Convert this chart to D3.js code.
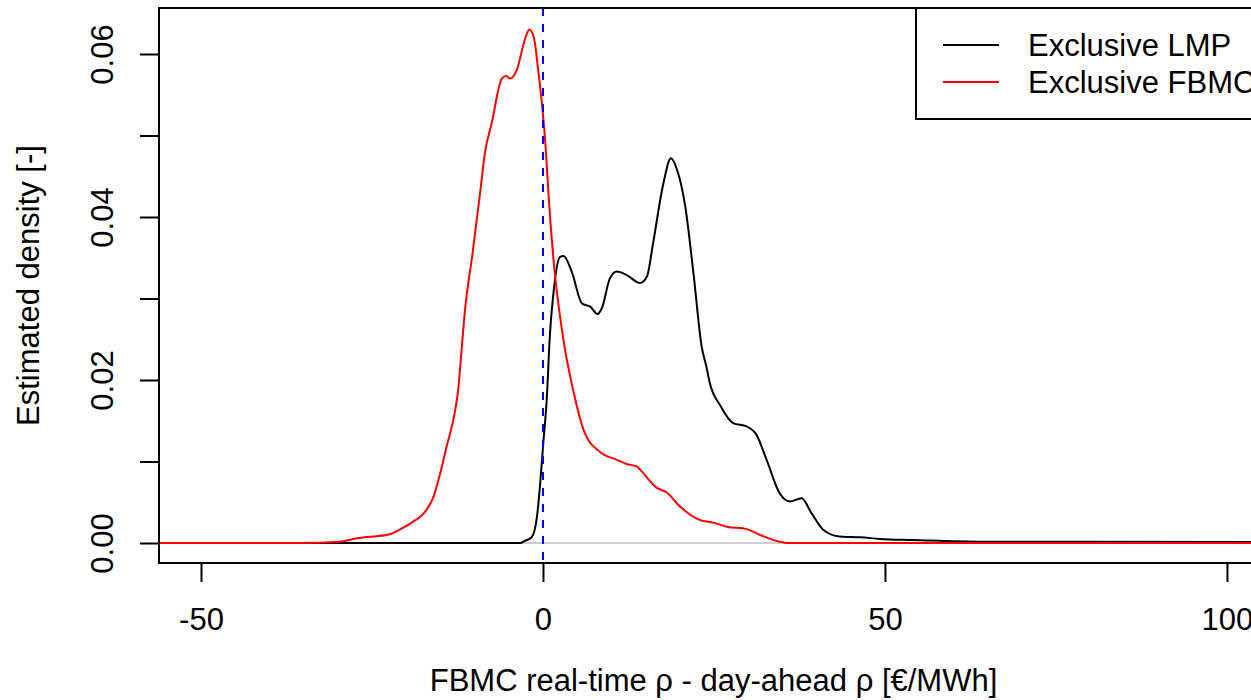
<!DOCTYPE html>
<html>
<head>
<meta charset="utf-8">
<script src="https://cdn.jsdelivr.net/npm/d3@7"></script>
<style>
  body { margin: 0; background: #fff; }
  text { font-family: "Liberation Sans", Arial, Helvetica, sans-serif; }
</style>
</head>
<body>
<div class="canvas"></div>
<script>
// density estimates
const lmpX = [-56, -20, -3.4, -2.6, -1.65, -0.9, -0.45, 0.05, 0.55, 1.0, 1.5, 1.75, 2.5, 3.0, 4.2, 5.7, 6.9, 8.0, 8.6, 9.8, 10.8, 12.2, 14.2, 15.2, 16.1, 17.6, 18.7, 19.6, 20.8, 22.0, 23.2, 23.9, 24.4, 25.9, 27.8, 29.8, 31.2, 32.7, 34.6, 36.1, 37.8, 39.3, 41.0, 43.4, 46.4, 49.3, 54.1, 63.9, 78.5, 106];
const lmpY = [0, 0, 0, 0.00028, 0.0007, 0.0031, 0.0069, 0.0123, 0.0176, 0.0254, 0.0304, 0.0323, 0.0351, 0.0352, 0.0333, 0.0294, 0.0290, 0.0281, 0.0288, 0.0325, 0.0333, 0.0329, 0.0319, 0.0327, 0.0368, 0.0441, 0.0472, 0.0458, 0.0413, 0.0331, 0.0241, 0.0216, 0.0196, 0.0169, 0.0147, 0.0143, 0.0133, 0.0102, 0.0061, 0.0051, 0.0055, 0.0036, 0.0016, 0.0008, 0.0007, 0.0005, 0.00037, 0.00016, 0.00016, 0.00012];

const fbmcX = [-56, -40, -35.5, -29.7, -27.2, -22.4, -20.9, -19.2, -17.0, -16.0, -15.1, -14.1, -12.9, -12.4, -11.9, -11.4, -10.3, -9.2, -8.5, -7.5, -6.0, -5.4, -4.8, -3.85, -2.6, -2.0, -1.3, -0.7, 0.0, 0.45, 0.8, 1.5, 3.0, 4.4, 6.1, 8.3, 10.8, 12.2, 13.7, 14.2, 16.6, 18.1, 20.0, 23.0, 24.9, 26.9, 29.8, 31.7, 34.6, 35.7, 50, 106];
const fbmcY = [0, 0, 0, 0.00016, 0.00058, 0.00107, 0.00168, 0.0025, 0.0041, 0.0057, 0.0083, 0.0118, 0.0160, 0.0188, 0.0237, 0.0286, 0.0355, 0.0429, 0.0478, 0.0515, 0.0570, 0.0573, 0.0570, 0.0580, 0.0619, 0.0630, 0.0619, 0.0580, 0.0526, 0.0478, 0.0429, 0.0351, 0.0249, 0.0188, 0.0135, 0.0112, 0.0102, 0.0097, 0.0094, 0.0090, 0.0068, 0.0062, 0.0045, 0.0028, 0.0025, 0.0020, 0.0017, 0.0010, 0.00016, 0, 0, 0];

const xTicks = [-50, 0, 50, 100];
const yTicks = [0, 0.01, 0.02, 0.03, 0.04, 0.05, 0.06];
const yLabelled = [0, 0.02, 0.04, 0.06];
const seriesNames = ['Exclusive LMP', 'Exclusive FBMC'];
const seriesColours = ['#000000', '#ff0000'];

const dims = { width: 1251, height: 700 };
const box = { left: 159, right: 1268, top: 8, bottom: 563 };
const fontSize = 31;

const svg = d3.select('.canvas')
  .append('svg')
  .attr('width', dims.width)
  .attr('height', dims.height);

// scales
const x = d3.scaleLinear()
  .domain([-56.14, 106.0])
  .range([box.left, box.right]);

const y = d3.scaleLinear()
  .domain([0, 0.06])
  .range([543, 54]);

svg.append('clipPath')
  .attr('id', 'plotClip')
  .append('rect')
  .attr('x', box.left)
  .attr('y', box.top)
  .attr('width', box.right - box.left)
  .attr('height', box.bottom - box.top);

const graph = svg.append('g')
  .attr('clip-path', 'url(#plotClip)');

// zero line of the density plot
graph.append('line')
  .attr('x1', box.left).attr('x2', box.right)
  .attr('y1', y(0)).attr('y2', y(0))
  .attr('stroke', '#bebebe')
  .attr('stroke-width', 1.5);

const line = d3.line()
  .x(d => x(d[0]))
  .y(d => y(d[1]))
  .curve(d3.curveMonotoneX);

graph.append('path')
  .datum(lmpX.map((v, i) => [v, lmpY[i]]))
  .attr('d', line)
  .attr('fill', 'none')
  .attr('stroke', seriesColours[0])
  .attr('stroke-width', 2);

graph.append('path')
  .datum(fbmcX.map((v, i) => [v, fbmcY[i]]))
  .attr('d', line)
  .attr('fill', 'none')
  .attr('stroke', seriesColours[1])
  .attr('stroke-width', 2);

// dashed line at zero
graph.append('line')
  .attr('x1', x(0)).attr('x2', x(0))
  .attr('y1', box.top).attr('y2', box.bottom)
  .attr('stroke', '#0000ff')
  .attr('stroke-width', 2)
  .attr('stroke-dasharray', '8,8');

// plot frame
svg.append('rect')
  .attr('x', box.left)
  .attr('y', box.top)
  .attr('width', box.right - box.left)
  .attr('height', box.bottom - box.top)
  .attr('fill', 'none')
  .attr('stroke', '#000')
  .attr('stroke-width', 2);

// x axis (plain hyphen for the minus, like R)
const xAxis = d3.axisBottom(x)
  .tickValues(xTicks)
  .tickSize(19)
  .tickPadding(26)
  .tickFormat(d => String(d));

const xg = svg.append('g')
  .attr('transform', `translate(0, ${box.bottom})`)
  .call(xAxis);
xg.select('.domain').remove();
xg.selectAll('line').attr('stroke-width', 2);
xg.selectAll('text')
  .attr('font-size', fontSize)
  .attr('font-family', '"Liberation Sans", Arial, sans-serif')
  .attr('fill', '#000');

// y axis
const yAxis = d3.axisLeft(y)
  .tickValues(yTicks)
  .tickSize(19)
  .tickFormat(d => yLabelled.includes(d) ? d3.format('.2f')(d) : '');

const yg = svg.append('g')
  .attr('transform', `translate(${box.left}, 0)`)
  .call(yAxis);
yg.select('.domain').remove();
yg.selectAll('line').attr('stroke-width', 2);
yg.selectAll('text')
  .attr('x', null).attr('dy', null)
  .attr('transform', 'translate(-46, 0) rotate(-90)')
  .attr('text-anchor', 'middle')
  .attr('font-size', fontSize)
  .attr('font-family', '"Liberation Sans", Arial, sans-serif')
  .attr('fill', '#000');

// axis titles
svg.append('text')
  .attr('x', (box.left + box.right) / 2)
  .attr('y', 691)
  .attr('text-anchor', 'middle')
  .attr('font-size', fontSize)
  .text('FBMC real-time \u03c1 - day-ahead \u03c1 [\u20ac/MWh]');

svg.append('text')
  .attr('transform', `translate(39, ${(box.top + box.bottom) / 2}) rotate(-90)`)
  .attr('text-anchor', 'middle')
  .attr('font-size', fontSize)
  .text('Estimated density [-]');

// legend
const legendGroup = svg.append('g');
legendGroup.append('rect')
  .attr('x', 916).attr('y', box.top)
  .attr('width', box.right - 916).attr('height', 111)
  .attr('fill', '#fff')
  .attr('stroke', '#000')
  .attr('stroke-width', 2);

seriesNames.forEach((name, i) => {
  const ly = 45 + i * 37;
  legendGroup.append('line')
    .attr('x1', 943).attr('x2', 999)
    .attr('y1', ly).attr('y2', ly)
    .attr('stroke', seriesColours[i])
    .attr('stroke-width', 2);
  legendGroup.append('text')
    .attr('x', 1028)
    .attr('y', ly + 11)
    .attr('font-size', fontSize)
    .text(name);
});
</script>
</body>
</html>
